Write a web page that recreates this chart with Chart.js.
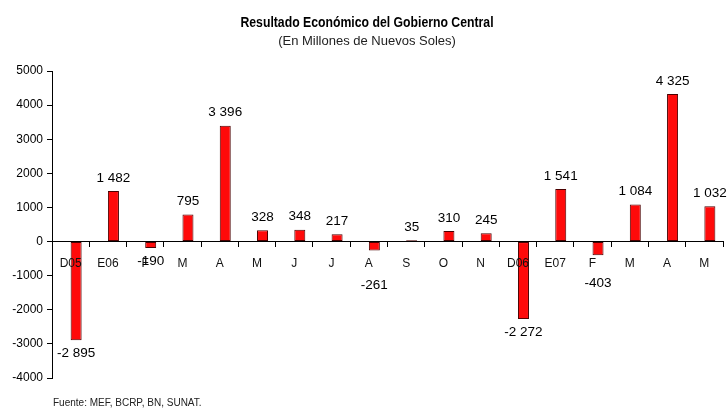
<!DOCTYPE html>
<html>
<head>
<meta charset="utf-8">
<script src="https://cdn.jsdelivr.net/npm/chart.js@4.4.0/dist/chart.umd.min.js"></script>
<style>
  html, body { margin: 0; padding: 0; background: #fff; }
</style>
</head>
<body>
<canvas id="chart" width="728" height="410"></canvas>
<script>
// data
const months = ['D05', 'E06', 'F', 'M', 'A', 'M', 'J', 'J', 'A', 'S', 'O', 'N', 'D06', 'E07', 'F', 'M', 'A', 'M'];
const resultado = [-2895, 1482, -190, 795, 3396, 328, 348, 217, -261, 35, 310, 245, -2272, 1541, -403, 1084, 4325, 1032];
const yRange = [-4000, 5000];
const yStep = 1000;

// empty series so the red bars sit right of the category centre, as in the original
const spacer = months.map(() => null);

// a couple of negative labels were pushed below the month names in the original
const labelPush = { 8: 22, 14: 15 };

const fmt = v => {
  const s = Math.abs(v).toString().replace(/\B(?=(\d{3})+(?!\d))/g, ' ');
  return (v < 0 ? '-' : '') + s;
};

const valueLabels = {
  id: 'valueLabels',
  afterDraw(chart) {
    const ctx = chart.ctx;
    const meta = chart.getDatasetMeta(1);
    ctx.save();
    ctx.font = '13.5px "Liberation Sans", Arial, sans-serif';
    ctx.fillStyle = '#000';
    ctx.textAlign = 'center';
    ctx.textBaseline = 'middle';
    meta.data.forEach((bar, i) => {
      const v = resultado[i];
      let y = v >= 0 ? bar.y - 13 : bar.y + 13;
      if (labelPush[i]) y += labelPush[i];
      ctx.fillText(fmt(v), bar.x, y);
    });
    ctx.restore();
  }
};

// titles + source note; the title font is a condensed one, no narrow face here so squeeze it
const titles = {
  id: 'titles',
  afterDraw(chart) {
    const ctx = chart.ctx;
    const cx = chart.width / 2;
    const line = (text, font, sx, y, color) => {
      ctx.save();
      ctx.font = font;
      ctx.fillStyle = color;
      ctx.textAlign = 'center';
      ctx.textBaseline = 'middle';
      ctx.translate(cx + 3, y);
      ctx.scale(sx, 1);
      ctx.fillText(text, 0, 0);
      ctx.restore();
    };
    line('Resultado Económico del Gobierno Central', 'bold 15.5px "Liberation Sans", Arial', 0.79, 23, '#000');
    line('(En Millones de Nuevos Soles)', '13px "Liberation Sans", Arial', 1, 41, '#222');

    ctx.save();
    ctx.font = '10px "Liberation Sans", Arial, sans-serif';
    ctx.fillStyle = '#222';
    ctx.textAlign = 'left';
    ctx.textBaseline = 'middle';
    ctx.fillText('Fuente: MEF, BCRP, BN, SUNAT.', 53, 403);
    ctx.restore();
  }
};

Chart.defaults.font.family = '"Liberation Sans", Arial, sans-serif';
Chart.defaults.color = '#000';

new Chart(document.getElementById('chart'), {
  type: 'bar',
  data: {
    labels: months,
    datasets: [{
      data: spacer
    }, {
      label: 'Resultado',
      data: resultado,
      backgroundColor: '#ff0a0a',
      borderColor: '#4a0000',
      borderWidth: 1,
      borderSkipped: false
    }]
  },
  options: {
    responsive: false,
    animation: false,
    devicePixelRatio: 1,
    categoryPercentage: 0.59,
    barPercentage: 1.0,
    layout: { padding: { top: 71, left: 0, right: 5, bottom: 32 } },
    plugins: {
      legend: { display: false },
      tooltip: { enabled: false },
      title: { display: false }
    },
    scales: {
      x: {
        type: 'category',
        position: { y: 0 },
        offset: true,
        grid: { offset: true, drawOnChartArea: false, tickLength: 5, color: '#000' },
        border: { display: true, color: '#000' },
        ticks: {
          z: 1,
          font: { size: 12 },
          color: '#111',
          padding: 10,
          maxRotation: 0,
          autoSkip: false
        }
      },
      y: {
        min: yRange[0],
        max: yRange[1],
        afterFit(scale) { scale.width = 52; },
        grid: { drawOnChartArea: false, tickLength: 5, color: '#000' },
        border: { display: true, color: '#000' },
        ticks: {
          stepSize: yStep,
          font: { size: 12 },
          color: '#000',
          padding: 4,
          callback: v => String(v)
        }
      }
    }
  },
  plugins: [valueLabels, titles]
});
</script>
</body>
</html>
